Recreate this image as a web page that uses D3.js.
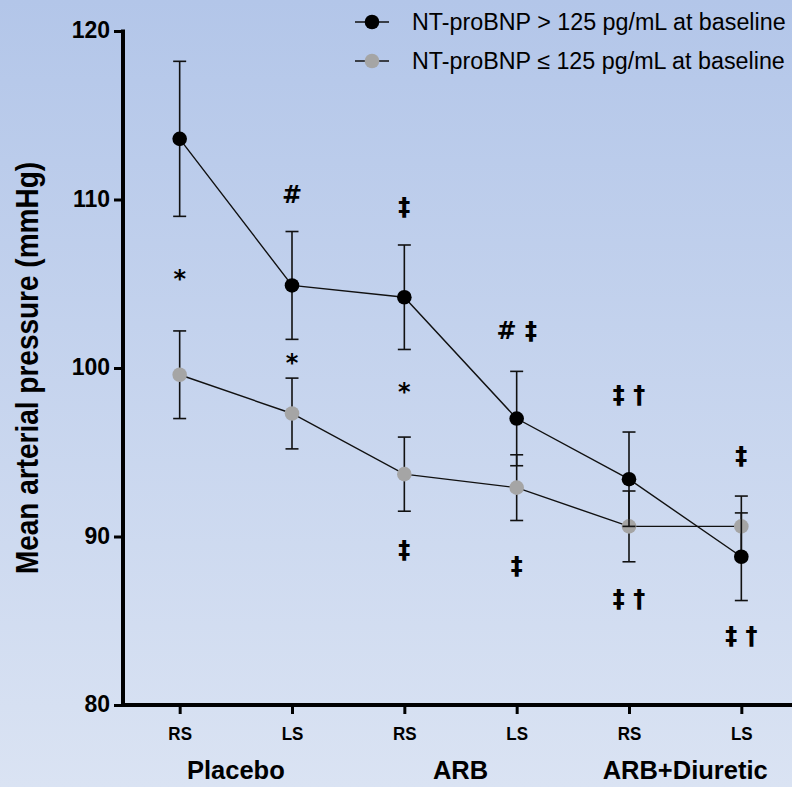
<!DOCTYPE html>
<html>
<head>
<meta charset="utf-8">
<script src="https://cdn.jsdelivr.net/npm/d3@7"></script>
<style>
  html, body { margin: 0; padding: 0; overflow: hidden; }
  svg { display: block; font-family: "Liberation Sans", Arial, sans-serif; }
</style>
</head>
<body>
<svg id="chart" width="792" height="787"></svg>
<script>
// Visit labels along the x axis and the treatment group each pair belongs to
const visits = ["RS", "LS", "RS", "LS", "RS", "LS"];
const groups = ["Placebo", "ARB", "ARB+Diuretic"];
const yTicks = [80, 90, 100, 110, 120];

// Mean arterial pressure (mmHg) with error (±) per visit
const highMean = [113.6, 104.9, 104.2, 97.0, 93.4, 88.8];
const highErr  = [4.6, 3.2, 3.1, 2.8, 2.8, 2.6];
const lowMean  = [99.6, 97.3, 93.7, 92.9, 90.6, 90.6];
const lowErr   = [2.6, 2.1, 2.2, 1.95, 2.1, 1.8];

const seriesNames = ["NT-proBNP > 125 pg/mL at baseline", "NT-proBNP \u2264 125 pg/mL at baseline"];

// Significance markers: visit index, y position (mmHg), symbol text
const markIdx  = [0, 1, 1, 2, 2, 2, 3, 3, 4, 4, 5, 5];
const markY    = [105.3, 110.3, 100.3, 109.6, 98.6, 89.2, 102.2, 88.3, 98.4, 86.3, 94.8, 84.1];
const markText = ["*", "#", "*", "\u2021", "*", "\u2021", "# \u2021", "\u2021", "\u2021 \u2020", "\u2021 \u2020", "\u2021", "\u2021 \u2020"];

const svg = d3.select("#chart");
const W = 792, H = 787;

// Background gradient
const defs = svg.append("defs");
const grad = defs.append("linearGradient").attr("id", "bg").attr("x1", 0).attr("y1", 0).attr("x2", 0).attr("y2", 1);
grad.append("stop").attr("offset", "0%").attr("stop-color", "#b3c6e9");
grad.append("stop").attr("offset", "100%").attr("stop-color", "#dae3f3");
svg.append("rect").attr("width", W).attr("height", H).attr("fill", "url(#bg)");

const x = d3.scaleLinear().domain([0, 6]).range([123.5, 797.5]);
const y = d3.scaleLinear().domain([80, 120]).range([705, 31]);
const xc = i => x(i + 0.5);

// Y axis
const yAxis = svg.append("g").attr("transform", "translate(123,0)")
  .call(d3.axisLeft(y).tickValues(yTicks).tickSize(9).tickPadding(4).tickSizeOuter(0));
yAxis.select(".domain").remove();
yAxis.selectAll(".tick line").attr("stroke", "#000").attr("stroke-width", 3);
yAxis.selectAll(".tick text").attr("font-size", 23).attr("font-weight", "bold").attr("fill", "#000")
  .attr("font-family", "Liberation Sans, Arial, sans-serif").attr("dy", "0.3em");
svg.append("line").attr("x1", 123).attr("x2", 123).attr("y1", y(120) - 1.5).attr("y2", y(80) + 2)
  .attr("stroke", "#000").attr("stroke-width", 4);

// X axis
const xAxis = svg.append("g").attr("transform", `translate(0,${y(80)})`)
  .call(d3.axisBottom(x).tickValues(d3.range(6).map(i => i + 0.5)).tickSize(9).tickPadding(0)
    .tickFormat((d, i) => visits[i]).tickSizeOuter(0));
xAxis.select(".domain").remove();
xAxis.selectAll(".tick line").attr("stroke", "#000").attr("stroke-width", 3);
xAxis.selectAll(".tick text").attr("font-size", 17).attr("font-weight", "bold").attr("fill", "#000")
  .attr("font-family", "Liberation Sans, Arial, sans-serif")
  .attr("dy", null).attr("y", 0)
  .attr("transform", "translate(0,35) scale(1,1.12)");

svg.append("line").attr("x1", 121).attr("x2", W).attr("y1", y(80)).attr("y2", y(80))
  .attr("stroke", "#000").attr("stroke-width", 4);

// Group labels under each RS/LS pair
svg.selectAll(".group").data(groups).join("text")
  .attr("x", (d, i) => (xc(2 * i) + xc(2 * i + 1)) / 2)
  .attr("y", 779)
  .attr("text-anchor", "middle").attr("font-size", 25.5).attr("font-weight", "bold").text(d => d);

// Y axis title
svg.append("text").attr("transform", `translate(38,${y(100)}) rotate(-90) scale(1,1.15)`)
  .attr("text-anchor", "middle").attr("font-size", 28).attr("font-weight", "bold")
  .text("Mean arterial pressure (mmHg)");

// Series
const series = [
  { mean: highMean, err: highErr, fill: "#000000" },
  { mean: lowMean, err: lowErr, fill: "#a5a5a5" }
];
const line = d3.line().x((d, i) => xc(i)).y(d => y(d));
const capW = 6.5;

// draw lower series first so the black markers sit on top
[series[1], series[0]].forEach(s => {
  const g = svg.append("g");
  g.append("path").attr("d", line(s.mean)).attr("fill", "none").attr("stroke", "#111").attr("stroke-width", 1.4);
  const eb = g.selectAll(".eb").data(s.mean).join("g");
  eb.append("line").attr("x1", (d, i) => xc(i)).attr("x2", (d, i) => xc(i))
    .attr("y1", (d, i) => y(d + s.err[i])).attr("y2", (d, i) => y(d - s.err[i]))
    .attr("stroke", "#111").attr("stroke-width", 1.6);
  [1, -1].forEach(sign => {
    eb.append("line").attr("x1", (d, i) => xc(i) - capW).attr("x2", (d, i) => xc(i) + capW)
      .attr("y1", (d, i) => y(d + sign * s.err[i])).attr("y2", (d, i) => y(d + sign * s.err[i]))
      .attr("stroke", "#111").attr("stroke-width", 1.6);
  });
  g.selectAll("circle").data(s.mean).join("circle")
    .attr("cx", (d, i) => xc(i)).attr("cy", d => y(d)).attr("r", 7.3).attr("fill", s.fill);
});

// Significance markers
svg.selectAll(".mark").data(markText).join("text")
  .attr("x", (d, i) => xc(markIdx[i]))
  .attr("y", (d, i) => y(markY[i]))
  .attr("dy", "0.35em")
  .attr("text-anchor", "middle").attr("font-size", 24).attr("font-weight", "bold")
  .attr("font-family", "DejaVu Sans, sans-serif")
  .text(d => d);

// Legend
const legend = svg.append("g");
seriesNames.forEach((name, i) => {
  const ly = 22 + i * 39;
  legend.append("line").attr("x1", 355).attr("x2", 389).attr("y1", ly).attr("y2", ly)
    .attr("stroke", "#111").attr("stroke-width", 1.4);
  legend.append("circle").attr("cx", 372).attr("cy", ly).attr("r", 7.3).attr("fill", series[i].fill);
  legend.append("text").attr("x", 412).attr("y", ly).attr("dy", "0.35em")
    .attr("font-size", 23.3).attr("fill", "#000").text(name);
});
</script>
</body>
</html>
